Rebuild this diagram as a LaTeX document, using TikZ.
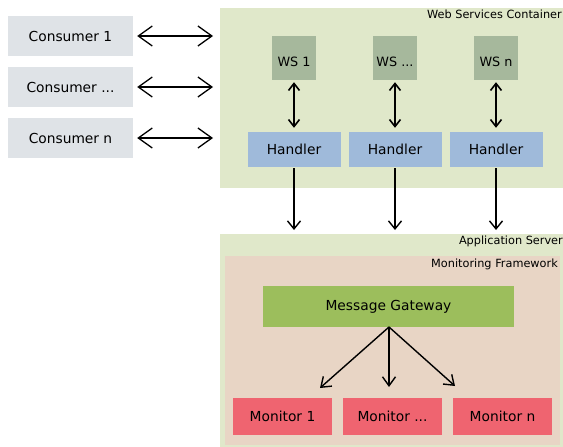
\documentclass[tikz,border=0pt]{standalone}
\usepackage{fontspec}
\setmainfont{DejaVu Sans}
\usetikzlibrary{arrows.meta}
\definecolor{consumerfill}{HTML}{DFE3E7}
\definecolor{containerfill}{HTML}{E0E8CA}
\definecolor{wsfill}{HTML}{A6B89C}
\definecolor{handlerfill}{HTML}{9FBADA}
\definecolor{frameworkfill}{HTML}{E8D5C5}
\definecolor{gatewayfill}{HTML}{9CBE5C}
\definecolor{monitorfill}{HTML}{EF6470}
% lower a label inside its box without changing the box size
\newcommand{\lowered}[1]{\raisebox{-4pt}[\height][\depth]{#1}}
\tikzset{
  box/.style={draw=none, inner sep=0pt, font=\fontsize{13.8}{16}\selectfont},
  consumer/.style={box, fill=consumerfill, minimum width=125pt, minimum height=40pt},
  wsbox/.style={box, fill=wsfill, minimum width=44pt, minimum height=44pt, font=\fontsize{12.8}{15}\selectfont},
  handler/.style={box, fill=handlerfill, minimum width=93pt, minimum height=35pt},
  monitor/.style={box, fill=monitorfill, minimum width=99pt, minimum height=37pt},
  gateway/.style={box, fill=gatewayfill, minimum width=251pt, minimum height=41pt},
  area/.style={draw=none, inner sep=0pt, anchor=north west},
  arealabel/.style={font=\fontsize{11.3}{13}\selectfont, anchor=north east, inner sep=0pt},
  bigdbl/.style={line width=1.3pt, {Straight Barb[length=14pt,width=20pt]}-{Straight Barb[length=14pt,width=20pt]}},
  smalldbl/.style={line width=1.6pt, {Straight Barb[length=7pt,width=11pt]}-{Straight Barb[length=7pt,width=11pt]}},
  down/.style={line width=1.4pt, -{Straight Barb[length=8pt,width=13pt]}},
  fan/.style={line width=1.4pt, -{Straight Barb[length=9pt,width=13pt]}}
}
\begin{document}
\begin{tikzpicture}[x=1pt, y=-1pt]
\useasboundingbox (0,0) rectangle (563,447);

% containers
\node[area, fill=containerfill, minimum width=343pt, minimum height=180pt] (wsc) at (220,8) {};
\node[arealabel] (wsclabel) at (562,10) {Web Services Container};
\node[area, fill=containerfill, minimum width=343pt, minimum height=213pt] (app) at (220,234) {};
\node[arealabel] (applabel) at (563,236) {Application Server};
\node[area, fill=frameworkfill, minimum width=335pt, minimum height=189pt] (mf) at (225,256) {};
\node[arealabel] (mflabel) at (558,259) {Monitoring Framework};

% consumers
\node[consumer] (c1) at (70.5,36) {Consumer 1};
\node[consumer] (c2) at (70.5,87) {Consumer ...};
\node[consumer] (c3) at (70.5,138) {Consumer n};

% web services and handlers
\node[wsbox] (ws1) at (294,58) {\lowered{WS 1}};
\node[wsbox] (ws2) at (395,58) {\lowered{WS ...}};
\node[wsbox] (ws3) at (496,58) {\lowered{WS n}};
\node[handler] (h1) at (294,149.5) {Handler};
\node[handler] (h2) at (395,149.5) {Handler};
\node[handler] (h3) at (496,149.5) {Handler};

% monitoring
\node[gateway] (gw) at (388.5,306.5) {Message Gateway};
\node[monitor] (m1) at (282.5,416.5) {Monitor 1};
\node[monitor] (m2) at (392.5,416.5) {Monitor ...};
\node[monitor] (m3) at (502.5,416.5) {Monitor n};

% consumer <-> container
\foreach \c in {c1,c2,c3}
  \draw[bigdbl, shorten <=4pt, shorten >=7pt] (\c.east) -- (\c.east -| wsc.west);

% web service <-> handler
\foreach \i in {1,2,3}
  \draw[smalldbl, shorten <=2pt, shorten >=4pt] (ws\i.south) -- (h\i.north);

% handlers -> application server
\foreach \i in {1,2,3}
  \draw[down, shorten <=1pt, shorten >=4pt] (h\i.south) -- (h\i.south |- app.north);

% gateway -> monitors
\coordinate (gwout) at (389,327);
\coordinate (t1) at (320,388);
\coordinate (t2) at (389,387);
\coordinate (t3) at (455,386);
\draw[fan] (gwout) -- (t1);
\draw[fan] (gwout) -- (t2);
\draw[fan] (gwout) -- (t3);
\end{tikzpicture}
\end{document}
